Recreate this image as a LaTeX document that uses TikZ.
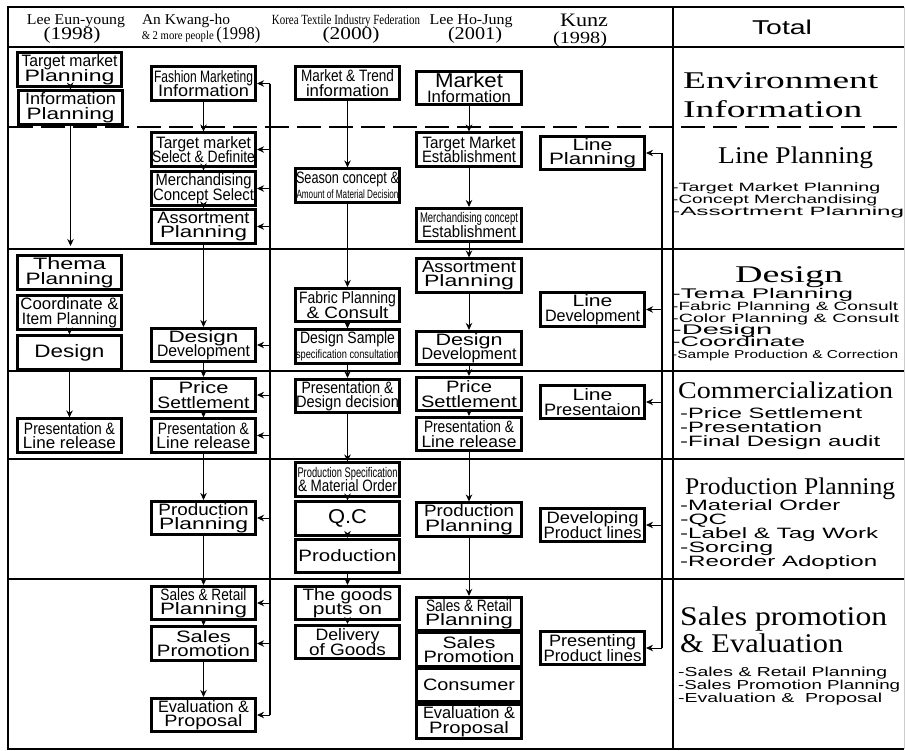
\documentclass[tikz,border=0pt]{standalone}
\usepackage{fontspec}
\setmainfont{Liberation Serif}
\setsansfont{Liberation Sans}
\usepackage{graphicx}
\usetikzlibrary{arrows.meta}

% squeeze or stretch one line of text to a given width
\newcommand{\wl}[2]{\resizebox{#1pt}{\height}{#2}}
\newcommand{\fsmall}{\fontsize{12}{12}\selectfont}
\newcommand{\fmid}{\fontsize{14}{14}\selectfont}
\newcommand{\fbig}{\fontsize{20}{20}\selectfont}
\protected\def\tightlines{\lineskiplimit-30pt\relax}

\begin{document}
\begin{tikzpicture}[
    x=1pt, y=-1pt,
    box/.style={draw, line width=2.6pt, minimum width=104.5pt, minimum height=33.5pt,
        inner sep=0pt, align=center,
        font={\sffamily\fontsize{16.5}{14.5}\selectfont\tightlines}},
    arr/.style={-{Stealth[length=7pt, width=6.5pt]}, line width=0.9pt},
    sep/.style={line width=1.6pt},
    head/.style={anchor=base, inner sep=0pt, font=\fontsize{15}{15}\selectfont},
    ttl/.style={anchor=base west, inner sep=0pt, font=\fontsize{24}{24}\selectfont},
    lst/.style={anchor=base west, inner sep=0pt, font=\sffamily\fontsize{#1}{#1}\selectfont},
    lst/.default=14
]

    \useasboundingbox (0,0) rectangle (905,750);

    % Frame and separators
    \draw[line width=2pt] (904,7) -- (8,7) -- (8,749) -- (904,749);
    \draw[gray!40, line width=0.8pt] (904,7) -- (904,749);
    \draw[sep] (8,47) -- (904,47);
    \draw[line width=2.5pt, dash pattern=on 24pt off 8pt] (9,127) -- (904,127);
    \foreach \yy in {249,371,459,579}
        \draw[sep] (8,\yy) -- (904,\yy);
    \draw[line width=2pt] (673,7) -- (673,749);

    % Column heads
    \node[head] (h1a) at (76,24) {\wl{98}{Lee Eun-young}};
    \node[head] (h1b) at (72,39) {\wl{57}{\fontsize{18}{18}\selectfont(1998)}};
    \node[head] (h2a) at (186,24) {\wl{88}{An Kwang-ho}};
    \node[head] (h2b) at (201,39) {\wl{72}{\fsmall\& 2 more people}\,\wl{44}{\fontsize{18}{18}\selectfont(1998)}};
    \node[head] (h3a) at (346,24) {\wl{148}{\fmid Korea Textile Industry Federation}};
    \node[head] (h3b) at (351,39) {\wl{57}{\fontsize{18}{18}\selectfont(2000)}};
    \node[head] (h4a) at (471,24) {\wl{83}{Lee Ho-Jung}};
    \node[head] (h4b) at (475,39) {\wl{54}{\fontsize{18}{18}\selectfont(2001)}};
    \node[head] (h5a) at (584,26) {\wl{48}{\fontsize{19}{19}\selectfont Kunz}};
    \node[head] (h5b) at (580,43) {\wl{54}{\fontsize{17}{17}\selectfont(1998)}};
    \node[head, font=\sffamily\fontsize{20}{20}\selectfont] (h6) at (782,34) {\wl{60}{Total}};

    % Lee Eun-young
    \node[box] (tp1) at (69.5,69.5) {\wl{96}{Target market}\\\wl{90}{Planning}};
    \node[box] (ip1) at (70.5,107.5) {\wl{91}{Information}\\\wl{88}{Planning}};
    \node[box] (th1) at (69.5,272.5) {\wl{73}{Thema}\\\wl{88}{Planning}};
    \node[box] (co1) at (69.5,312.5) {\wl{98}{Coordinate \&}\\\wl{95}{Item Planning}};
    \node[box] (de1) at (69.5,352.5) {\wl{70}{\fontsize{18}{18}\selectfont Design}};
    \node[box] (pl1) at (69.5,435.5) {\wl{91}{Presentation \&}\\\wl{93}{Line release}};
    \coordinate (e1) at (ip1.south |- 0,246);

    \draw[arr] (tp1) -- (ip1.north);
    \draw[arr] (ip1.south) -- (e1);
    \draw[arr] (co1) -- (de1.north);
    \draw[arr] (de1.south) -- (pl1.north);

    % An Kwang-ho
    \node[box] (fm2) at (203.5,83.5) {\wl{99}{Fashion Marketing}\\\wl{91}{Information}};
    \node[box] (ts2) at (203.5,149.5) {\wl{95}{Target market}\\\wl{103}{Select \& Definite}};
    \node[box] (mc2) at (203.5,188.5) {\wl{96}{Merchandising}\\\wl{101}{Concept Select}};
    \node[box] (as2) at (203.5,226.5) {\wl{92}{Assortment}\\\wl{87}{Planning}};
    \node[box] (dd2) at (203.5,345) {\wl{70}{Design}\\\wl{93}{Development}};
    \node[box] (ps2) at (203.5,395) {\wl{50}{Price}\\\wl{92}{Settlement}};
    \node[box] (pl2) at (203.5,435.5) {\wl{91}{Presentation \&}\\\wl{94}{Line release}};
    \node[box] (pp2) at (203.5,518) {\wl{90}{Production}\\\wl{89}{Planning}};
    \node[box] (sr2) at (203.5,603) {\wl{86}{Sales \& Retail}\\\wl{87}{Planning}};
    \node[box] (sp2) at (203.5,643.5) {\wl{55}{Sales}\\\wl{93}{Promotion}};
    \node[box] (ev2) at (203.5,715) {\wl{91}{Evaluation \&}\\\wl{78}{Proposal}};

    \draw[arr] (fm2.south) -- (ts2.north);
    \draw[arr] (ts2) -- (mc2.north);
    \draw[arr] (mc2) -- (as2.north);
    \draw[arr] (as2.south) -- (dd2.north);
    \draw[arr] (dd2.south) -- (ps2.north);
    \draw[arr] (ps2) -- (pl2.north);
    \draw[arr] (pl2.south) -- (pp2.north);
    \draw[arr] (pp2.south) -- (sr2.north);
    \draw[arr] (sr2) -- (sp2.north);
    \draw[arr] (sp2.south) -- (ev2.north);

    % feedback line, An Kwang-ho
    \coordinate (fbA) at (270,0);
    \draw[line width=1.2pt] (fm2.east -| fbA) -- (ev2.east -| fbA);
    \foreach \b in {fm2,ts2,mc2,as2,dd2,ps2,pl2,pp2,sr2,sp2,ev2}
        \draw[arr] (\b.east -| fbA) -- (\b.east);

    % Korea Textile Industry Federation
    \node[box] (mt3) at (347.5,83) {\wl{93}{Market \& Trend}\\\wl{83}{information}};
    \node[box] (sc3) at (347.5,185.5) {\wl{103}{Season concept \&}\\\wl{102}{\fsmall Amount of Material Decision}};
    \node[box] (fp3) at (347.5,305) {\wl{97}{Fabric Planning}\\\wl{82}{\& Consult}};
    \node[box] (ds3) at (347.5,346.5) {\wl{95}{Design Sample}\\\wl{103}{\fsmall specification consultation}};
    \node[box] (pd3) at (347.5,396) {\wl{92}{Presentation \&}\\\wl{103}{Design decision}};
    \node[box] (ps3) at (347.5,479.5) {\wl{100}{\fmid Production Specification}\\\wl{99}{\& Material Order}};
    \node[box] (qc3) at (347.5,518.5) {\wl{39}{\fbig Q.C}};
    \node[box] (pr3) at (347.5,556) {\wl{98}{Production}};
    \node[box] (tg3) at (347.5,603) {\wl{90}{The goods}\\\wl{69}{puts on}};
    \node[box] (dg3) at (347.5,642) {\wl{64}{Delivery}\\\wl{77}{of Goods}};

    \draw[arr] (mt3.south) -- (sc3.north);
    \draw[arr] (sc3.south) -- (fp3.north);
    \draw[arr] (fp3) -- (ds3.north);
    \draw[arr] (ds3.south) -- (pd3.north);
    \draw[arr] (pd3.south) -- (ps3.north);
    \draw[arr] (ps3) -- (qc3.north);
    \draw[arr] (qc3) -- (pr3.north);
    \draw[arr] (pr3.south) -- (tg3.north);
    \draw[arr] (tg3) -- (dg3.north);

    % Lee Ho-Jung
    \node[box] (mi4) at (469,88) {\wl{68}{\fbig Market}\\\wl{84}{Information}};
    \node[box] (tm4) at (469,149.5) {\wl{93}{Target Market}\\\wl{94}{Establishment}};
    \node[box] (me4) at (469,225) {\wl{98}{\fmid Merchandising concept}\\\wl{94}{Establishment}};
    \node[box] (as4) at (469,275.5) {\wl{94}{Assortment}\\\wl{90}{Planning}};
    \node[box] (dd4) at (469,348) {\wl{67}{Design}\\\wl{95}{Development}};
    \node[box] (ps4) at (469,394) {\wl{46}{Price}\\\wl{96}{Settlement}};
    \node[box] (pl4) at (469,434) {\wl{90}{Presentation \&}\\\wl{95}{Line release}};
    \node[box] (pp4) at (469,519.5) {\wl{90}{Production}\\\wl{88}{Planning}};
    \node[box] (sr4) at (469,614) {\wl{86}{Sales \& Retail}\\\wl{88}{Planning}};
    \node[box] (sp4) at (469,649.5) {\wl{53}{Sales}\\\wl{91}{Promotion}};
    \node[box] (co4) at (469,685) {\wl{92}{Consumer}};
    \node[box] (ev4) at (469,721.5) {\wl{92}{Evaluation \&}\\\wl{80}{Proposal}};

    \draw[arr] (mi4.south) -- (tm4.north);
    \draw[arr] (tm4.south) -- (me4.north);
    \draw[arr] (me4.south) -- (as4.north);
    \draw[arr] (as4.south) -- (dd4.north);
    \draw[arr] (dd4.south) -- (ps4.north);
    \draw[arr] (ps4) -- (pl4.north);
    \draw[arr] (pl4.south) -- (pp4.north);
    \draw[arr] (pp4.south) -- (sr4.north);

    % Kunz
    \node[box] (lp5) at (592.5,153) {\wl{40}{Line}\\\wl{87}{Planning}};
    \node[box] (ld5) at (592.5,309.5) {\wl{40}{Line}\\\wl{95}{Development}};
    \node[box] (lr5) at (592.5,402) {\wl{40}{Line}\\\wl{97}{Presentaion}};
    \node[box] (dp5) at (592.5,525) {\wl{92}{Developing}\\\wl{98}{Product lines}};
    \node[box] (pn5) at (592.5,648) {\wl{87}{Presenting}\\\wl{98}{Product lines}};

    % feedback line, Kunz
    \coordinate (fbK) at (662,0);
    \draw[line width=1.2pt] (lp5.east -| fbK) -- (pn5.east -| fbK);
    \foreach \b in {lp5,ld5,lr5,dp5,pn5}
        \draw[arr] (\b.east -| fbK) -- (\b.east);

    % Total
    \node[ttl] (t1a) at (683,88) {\wl{195}{Environment}};
    \node[ttl] (t1b) at (683,117) {\wl{179}{Information}};

    \node[ttl] (t2) at (718,163) {\wl{155}{Line Planning}};
    \node[lst=12] (t2a) at (672,191) {\wl{208}{-Target Market Planning}};
    \node[lst=12] (t2b) at (672,203) {\wl{205}{-Concept Merchandising}};
    \node[lst=12] (t2c) at (672,215) {\wl{232}{-Assortment Planning}};

    \node[ttl] (t3) at (735,282) {\wl{108}{Design}};
    \node[lst=14] (t3a) at (672,298) {\wl{181}{-Tema Planning}};
    \node[lst=12] (t3b) at (672,310) {\wl{226}{-Fabric Planning \& Consult}};
    \node[lst=12] (t3c) at (672,322) {\wl{227}{-Color Planning \& Consult}};
    \node[lst=14] (t3d) at (672,334) {\wl{100}{-Design}};
    \node[lst=14] (t3e) at (672,346) {\wl{133}{-Coordinate}};
    \node[lst=11.5] (t3f) at (672,358) {\wl{226}{-Sample Production \& Correction}};

    \node[ttl] (t4) at (678,398) {\wl{215}{Commercialization}};
    \node[lst=15] (t4a) at (680,418) {\wl{182}{-Price Settlement}};
    \node[lst=15] (t4b) at (680,432) {\wl{142}{-Presentation}};
    \node[lst=15] (t4c) at (680,446) {\wl{200}{-Final Design audit}};

    \node[ttl] (t5) at (685,494) {\wl{210}{Production Planning}};
    \node[lst=15] (t5a) at (680,510) {\wl{160}{-Material Order}};
    \node[lst=15] (t5b) at (680,524) {\wl{47}{-QC}};
    \node[lst=15] (t5c) at (680,538) {\wl{198}{-Label \& Tag Work}};
    \node[lst=15] (t5d) at (680,552) {\wl{93}{-Sorcing}};
    \node[lst=15] (t5e) at (680,566) {\wl{197}{-Reorder Adoption}};

    \node[ttl, font=\fontsize{27}{27}\selectfont] (t6a) at (680,625) {\wl{207}{Sales promotion}};
    \node[ttl, font=\fontsize{27}{27}\selectfont] (t6b) at (680,652) {\wl{163}{\& Evaluation}};
    \node[lst=13] (t6c) at (678,676) {\wl{209}{-Sales \& Retail Planning}};
    \node[lst=13] (t6d) at (678,689) {\wl{222}{-Sales Promotion Planning}};
    \node[lst=13] (t6e) at (678,702) {\wl{204}{-Evaluation \&\ \ Proposal}};

\end{tikzpicture}
\end{document}
